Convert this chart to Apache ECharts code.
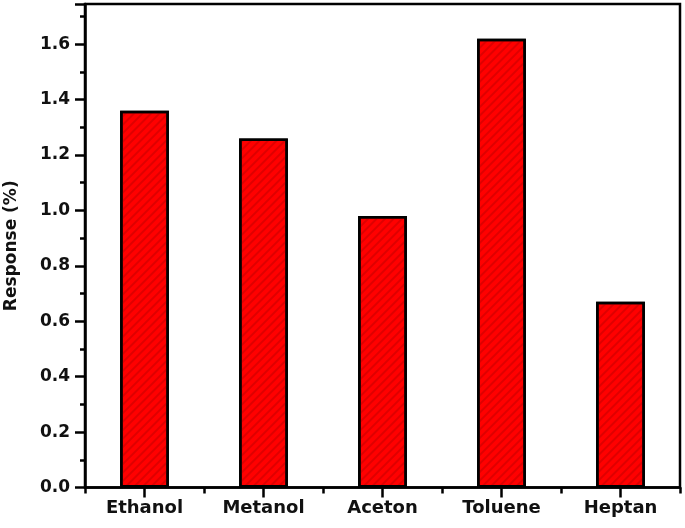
<!DOCTYPE html>
<html>
<head>
<meta charset="utf-8">
<script src="https://cdn.jsdelivr.net/npm/echarts@6/dist/echarts.min.js"></script>
<style>
html,body{margin:0;padding:0;background:#fff;}
#chart{width:685px;height:528px;}
</style>
</head>
<body>
<div id="chart"></div>
<script>
var categories = ['Ethanol', 'Metanol', 'Aceton', 'Toluene', 'Heptan'];
var responseValues = [1.36, 1.26, 0.98, 1.62, 0.67];
var yTickLabels = ['0.0', '0.2', '0.4', '0.6', '0.8', '1.0', '1.2', '1.4', '1.6'];

var font = '"DejaVu Sans", "Liberation Sans", Arial, sans-serif';
var chart = echarts.init(document.getElementById('chart'), null, {renderer: 'canvas'});
chart.setOption({
  animation: false,
  backgroundColor: '#fff',
  grid: {left: 85, right: 5, top: 4, bottom: 40.5, containLabel: false, outerBoundsMode: 'none',
    show: true, borderColor: '#000', borderWidth: 2.5, backgroundColor: 'transparent'},
  xAxis: [{
    type: 'category', data: categories, position: 'bottom',
    axisLine: {lineStyle: {color: '#000', width: 2.5}},
    axisTick: {show: true, alignWithLabel: false, length: 6, inside: false, lineStyle: {color: '#000', width: 2.5}},
    axisLabel: {show: false},
    splitLine: {show: false}
  }, {
    type: 'category', data: categories, position: 'bottom', offset: 0,
    axisLine: {show: false},
    axisTick: {show: true, alignWithLabel: true, length: 10, lineStyle: {color: '#000', width: 2.5}},
    axisLabel: {show: true, margin: 12, color: '#111', fontFamily: font, fontWeight: 'bold', fontSize: 18},
    splitLine: {show: false}
  }],
  yAxis: {
    type: 'value', min: 0, max: 1.745, interval: 0.2,
    name: 'Response (%)', nameLocation: 'middle', nameGap: 65,
    nameTextStyle: {color: '#111', fontFamily: font, fontWeight: 'bold', fontSize: 17},
    axisLine: {show: true, lineStyle: {color: '#000', width: 2.5}},
    axisTick: {show: true, length: 10, lineStyle: {color: '#000', width: 2.5}},
    minorTick: {show: true, splitNumber: 2, length: 5, lineStyle: {color: '#000', width: 2.5}},
    axisLabel: {
      margin: 15, color: '#111', fontFamily: font, fontWeight: 'bold', fontSize: 17,
      showMaxLabel: false,
      formatter: function (v) {
        var i = Math.round(v / 0.2);
        return (Math.abs(v - i * 0.2) < 1e-6 && yTickLabels[i] !== undefined) ? yTickLabels[i] : '';
      }
    },
    splitLine: {show: false}
  },
  series: [{
    type: 'bar', xAxisIndex: 0, data: responseValues, barWidth: '41%',
    itemStyle: {
      color: '#ff0000', borderColor: '#000', borderWidth: 2.5,
      decal: {symbol: 'rect', symbolSize: 1, dashArrayX: [1, 0], dashArrayY: [1.5, 3.5], rotation: -Math.PI / 4, color: 'rgba(150,0,0,0.3)'}
    }
  }]
});
</script>
</body>
</html>
